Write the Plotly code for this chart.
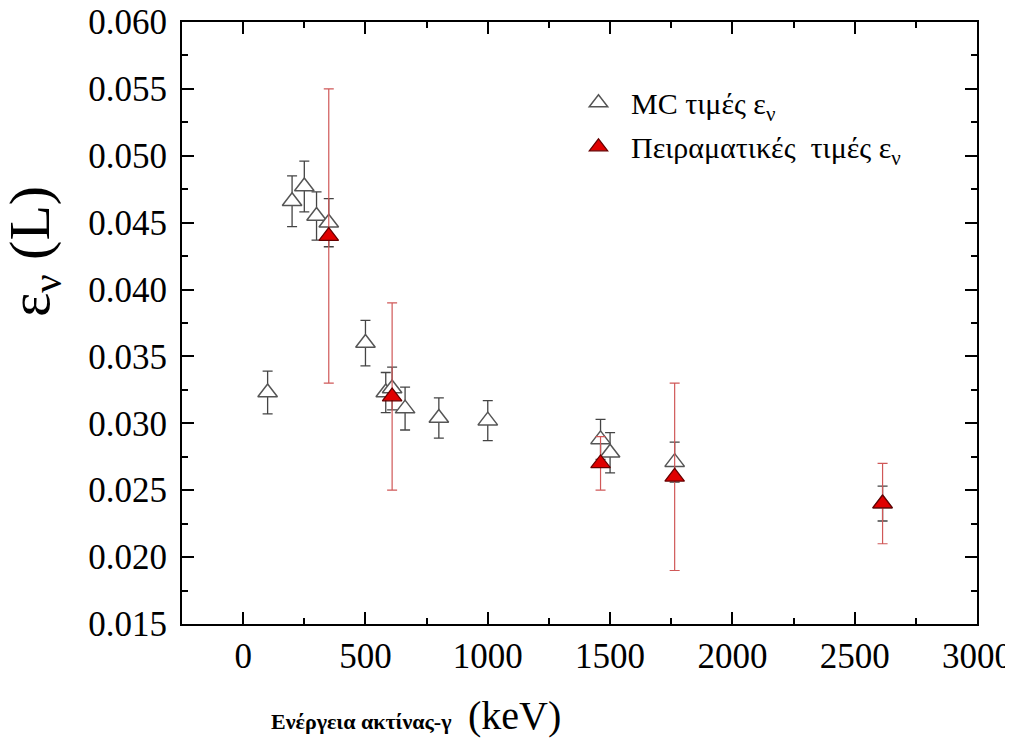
import plotly.graph_objects as go

# MC τιμές
mc_energy = [100, 200, 250, 300, 350, 500, 583, 609, 662, 800, 1000, 1461, 1500, 1764, 2614]
mc_eff = [0.0323, 0.0466, 0.0477, 0.0455, 0.0450, 0.0360, 0.0323, 0.0326, 0.0311, 0.0304, 0.0302,
          0.0288, 0.0278, 0.0271, 0.0240]
mc_err = [0.0016, 0.0019, 0.0019, 0.0018, 0.0018, 0.0017, 0.0015, 0.0016, 0.0016, 0.0015, 0.0015,
          0.0015, 0.0015, 0.0015, 0.0013]

# Πειραματικές τιμές
exp_energy = [350, 609, 1461, 1764, 2614]
exp_eff = [0.044, 0.032, 0.027, 0.026, 0.024]
exp_err = [0.011, 0.007, 0.002, 0.007, 0.003]

font = "Liberation Serif"

fig = go.Figure()
fig.add_trace(go.Scatter(
    x=mc_energy, y=mc_eff, mode="markers", name="MC τιμές ε<sub>ν</sub>", legendgroup="mc",
    error_y=dict(type="data", array=mc_err, color="#444444", thickness=1.3, width=5),
    marker=dict(symbol="triangle-up", size=17, color="white", line=dict(color="#555555", width=1.5)),
))
fig.add_trace(go.Scatter(
    x=exp_energy, y=exp_eff, mode="markers", name="Πειραματικές  τιμές ε<sub>ν</sub>", legendgroup="exp",
    error_y=dict(type="data", array=exp_err, color="#d05858", thickness=1.2, width=5),
    marker=dict(symbol="triangle-up", size=17, color="#e00000", line=dict(color="#660000", width=1.2)),
))

axis_common = dict(
    showline=True, linecolor="black", linewidth=2, mirror="ticks",
    ticks="inside", ticklen=12, tickwidth=2, tickcolor="black",
    showgrid=False, zeroline=False, automargin=False, ticklabeloverflow="allow",
    tickfont=dict(family=font, size=35, color="black"),
)
fig.update_xaxes(range=[-250, 3000], dtick=500, tick0=0,
                 minor=dict(ticks="inside", ticklen=6, tickwidth=2, tickcolor="black", dtick=250),
                 **axis_common)
fig.update_yaxes(range=[0.015, 0.060], dtick=0.005, tick0=0.015, tickformat=".3f",
                 ticklabelstandoff=6,
                 minor=dict(ticks="inside", ticklen=6, tickwidth=2, tickcolor="black", dtick=0.0025),
                 **axis_common)

fig.add_annotation(text="ε<sub>ν</sub> (L)", xref="paper", yref="paper", x=-0.186, y=0.618,
                   xanchor="center", yanchor="middle",
                   textangle=-90, showarrow=False, font=dict(family=font, size=58, color="black"))
fig.add_annotation(text="<b>Ενέργεια ακτίνας-γ</b>   <span style='font-size:40px'>(keV)</span>",
                   xref="paper", yref="paper", x=0.294, y=-0.152, xanchor="center", yanchor="middle",
                   showarrow=False, font=dict(family=font, size=22, color="black"))

fig.update_layout(
    width=1005, height=734,
    margin=dict(l=174, r=36, t=14, b=118, autoexpand=False),
    plot_bgcolor="white", paper_bgcolor="white",
    legend=dict(x=0.483, y=0.909, xanchor="left", yanchor="top", bgcolor="rgba(0,0,0,0)",
                tracegroupgap=2, itemwidth=55,
                font=dict(family=font, size=30, color="black")),
)
fig.write_html("out.html")
